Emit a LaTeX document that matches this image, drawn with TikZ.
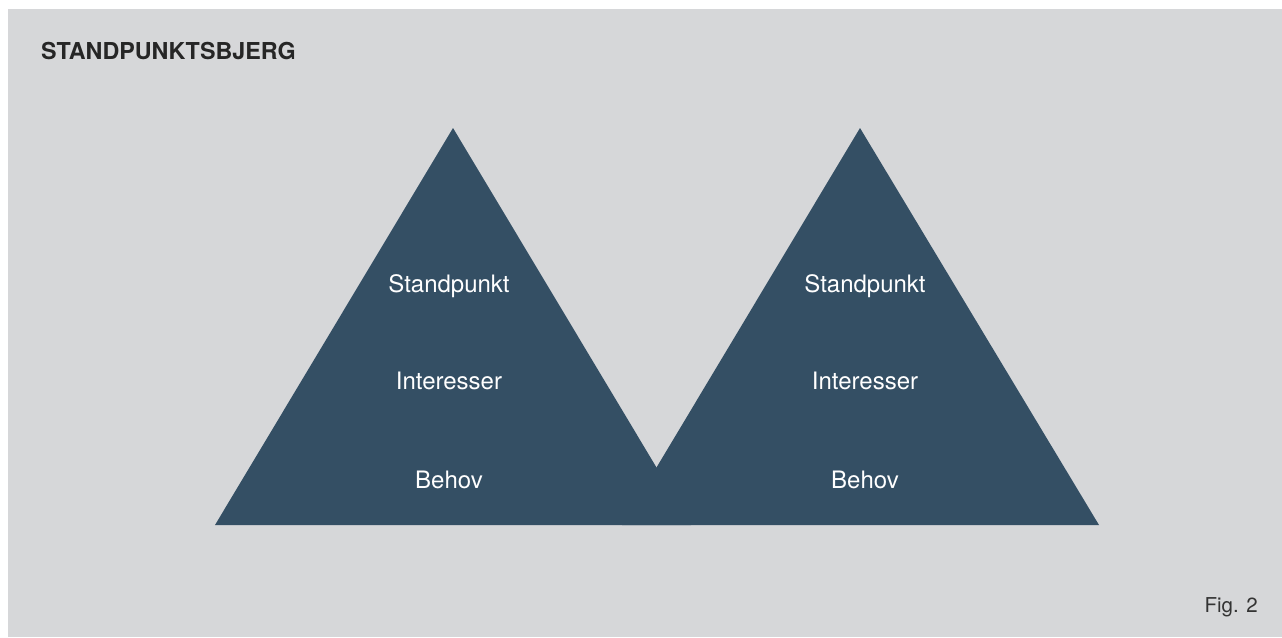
\documentclass[tikz,border=0pt]{standalone}
\usepackage{fontspec}
\setmainfont{TeX Gyre Heros}
\definecolor{bggray}{HTML}{D6D7D9}
\definecolor{mountain}{HTML}{344F64}
\tikzset{
  lbl/.style={anchor=base, text=white, font=\fontsize{24}{28}\selectfont},
}
\begin{document}
\begin{tikzpicture}[x=1pt,y=-1pt]
  % Background
  \useasboundingbox (0,0) rectangle (1282,637);
  \fill[bggray] (8,9) rectangle (1282,637);

  % Two mountains
  \fill[mountain] (215,525) -- (453,128) -- (691,525) -- cycle;
  \fill[mountain] (622,525) -- (860,128) -- (1099,525) -- cycle;

  % Labels
  \node[anchor=base west, inner sep=0pt, text=black!85, font=\fontsize{23.3}{27}\selectfont\bfseries] (title) at (41,59) {STANDPUNKTSBJERG};
  \node[lbl] (s1) at (449,292) {Standpunkt};
  \node[lbl] (i1) at (449,389) {Interesser};
  \node[lbl] (b1) at (449,488) {Behov};
  \node[lbl] (s2) at (865,292) {Standpunkt};
  \node[lbl] (i2) at (865,389) {Interesser};
  \node[lbl] (b2) at (865,488) {Behov};
  \node[anchor=base east, inner sep=0pt, text=black!80, font=\fontsize{20.5}{24}\selectfont] (fig) at (1258,612) {Fig. 2};
\end{tikzpicture}
\end{document}
